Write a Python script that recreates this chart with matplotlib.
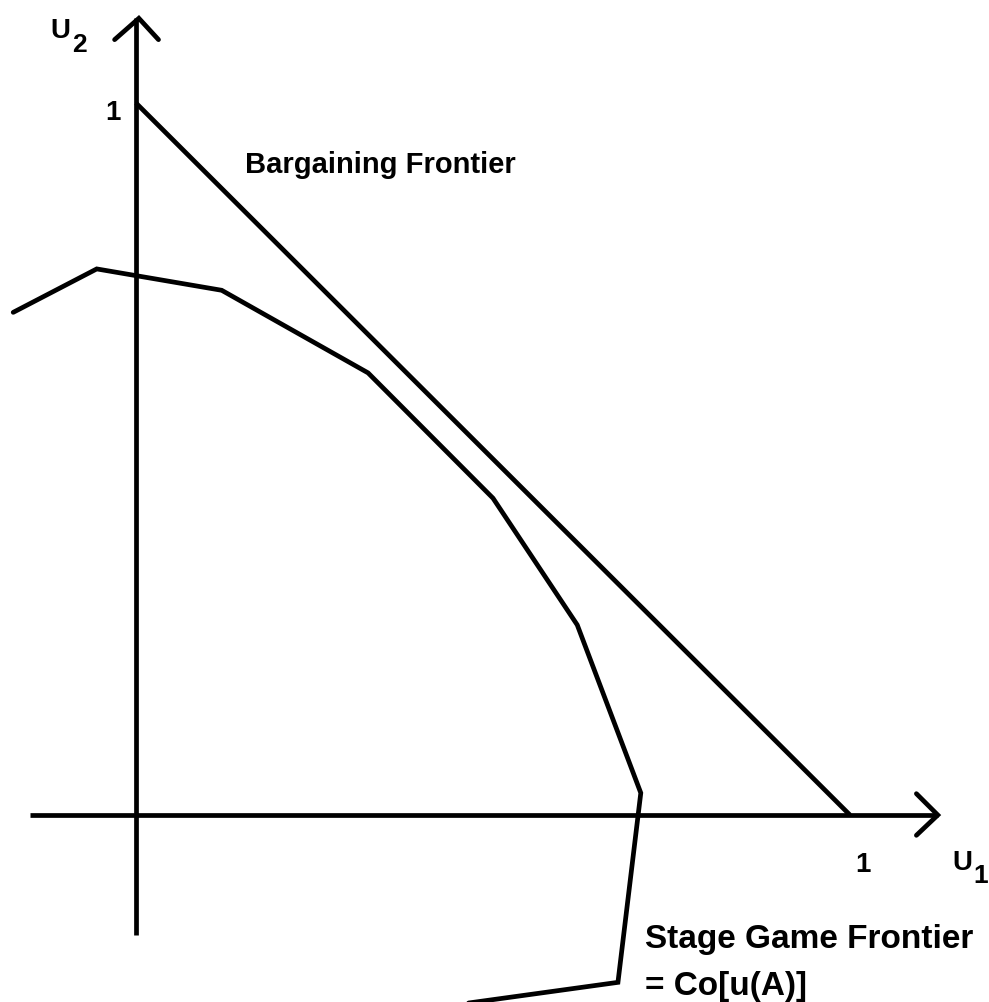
import matplotlib
matplotlib.use("Agg")
from matplotlib import pyplot as plt

plt.rcParams['font.family'] = ['Liberation Sans', 'DejaVu Sans']

# bargaining frontier: straight line between the two unit payoffs
bargain_u1 = [0.0, 1.0]
bargain_u2 = [1.0, 0.0]

# stage game frontier, Co[u(A)], traced vertex by vertex
stage_u1 = [-0.172, -0.055, 0.120, 0.325, 0.500, 0.618, 0.707, 0.675, 0.30]
stage_u2 = [0.706, 0.767, 0.737, 0.621, 0.445, 0.267, 0.031, -0.235, -0.287]

# axis extents
x_axis = [-0.148, 1.123]
y_axis = [-0.169, 1.119]

LW = 3.4
INK = 'black'

fig = plt.figure()
fig.set_dpi(100)
fig.set_size_inches(9.89, 10.02)
ax = fig.add_axes([0, 0, 1, 1])
ax.set_xlim(-0.1905, 1.1947)
ax.set_ylim(-0.2626, 1.1447)
ax.axis('off')

# axes with open arrow heads
ax.plot(x_axis, [0, 0], color=INK, lw=LW, solid_capstyle='butt')
ax.plot([0, 0], y_axis, color=INK, lw=LW, solid_capstyle='butt')
h = 0.03
xt = x_axis[1]
ax.plot([xt - h, xt, xt - h], [h, 0, -h * 0.95], color=INK, lw=LW,
        solid_joinstyle='miter', solid_capstyle='round')
yt = y_axis[1]
ax.plot([-h, 0.004, h * 1.05], [yt - h, yt, yt - h], color=INK, lw=LW,
        solid_joinstyle='miter', solid_capstyle='round')

ax.plot(bargain_u1, bargain_u2, color=INK, lw=LW, solid_capstyle='butt')
ax.plot(stage_u1, stage_u2, color=INK, lw=LW,
        solid_joinstyle='miter', solid_capstyle='round')

# labels
ax.text(0.1527, 0.902, 'Bargaining Frontier', fontsize=21, fontweight='bold',
        va='baseline', ha='left')
ax.text(0.713, -0.187, 'Stage Game Frontier', fontsize=24, fontweight='bold',
        va='baseline', ha='left')
ax.text(0.713, -0.253, '= Co[u(A)]', fontsize=24, fontweight='bold',
        va='baseline', ha='left')

ax.text(-0.120, 1.091, 'U', fontsize=20, fontweight='bold', va='baseline')
ax.text(-0.090, 1.072, '2', fontsize=19, fontweight='bold', va='baseline')
ax.text(-0.043, 0.976, '1', fontsize=20, fontweight='bold', va='baseline')

ax.text(1.007, -0.080, '1', fontsize=20, fontweight='bold', va='baseline')
ax.text(1.143, -0.077, 'U', fontsize=20, fontweight='bold', va='baseline')
ax.text(1.173, -0.096, '1', fontsize=19, fontweight='bold', va='baseline')

fig.savefig('out.png', dpi=100, facecolor='white')
